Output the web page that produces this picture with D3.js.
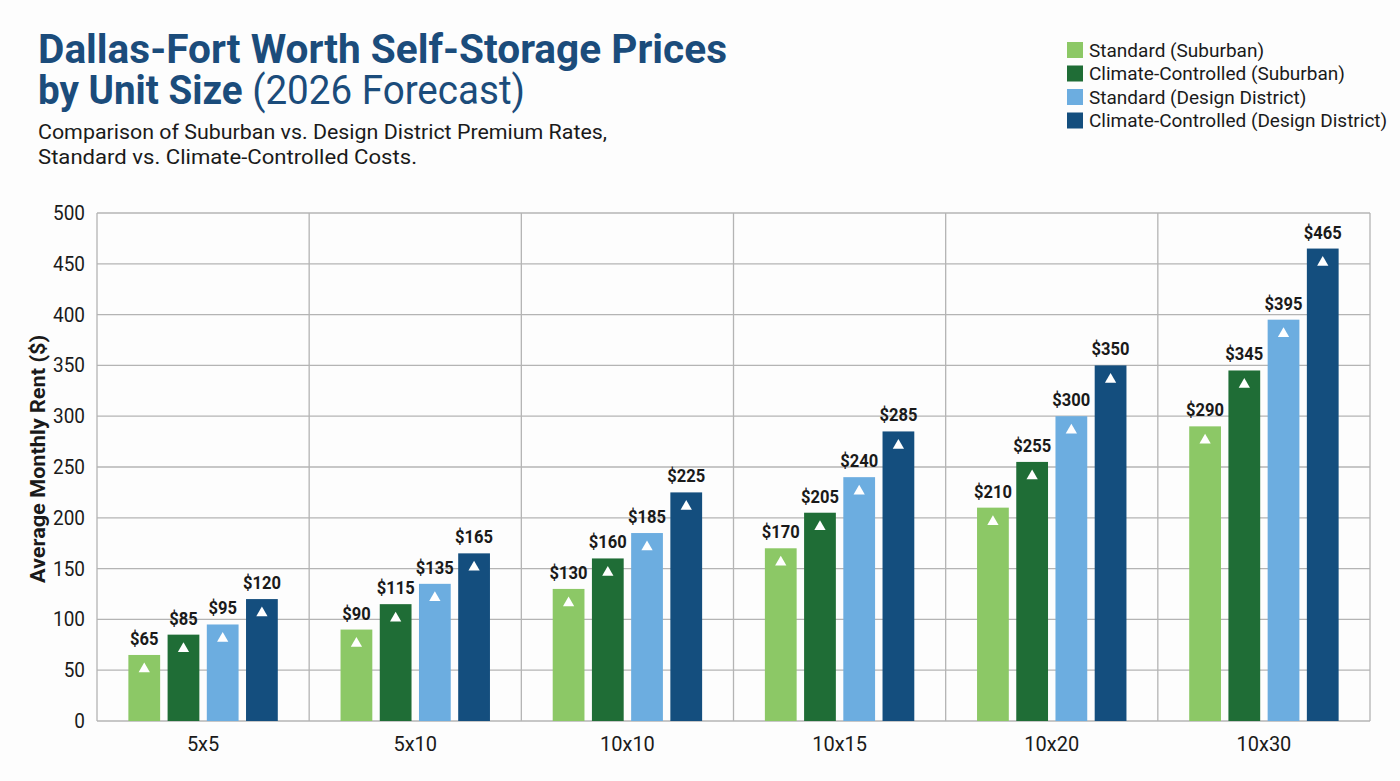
<!DOCTYPE html>
<html>
<head>
<meta charset="utf-8">
<script src="https://cdn.jsdelivr.net/npm/d3@7/dist/d3.min.js"></script>
<style>
  body { margin: 0; background: #fdfdfd; }
  text { font-family: Roboto, "Noto Sans", sans-serif; }
</style>
</head>
<body>
<div id="chart"></div>
<script>
// data
const unitSizes = ['5x5', '5x10', '10x10', '10x15', '10x20', '10x30'];
const seriesNames = [
  'Standard (Suburban)',
  'Climate-Controlled (Suburban)',
  'Standard (Design District)',
  'Climate-Controlled (Design District)'
];
const standardSuburban = [65, 90, 130, 170, 210, 290];
const climateSuburban = [85, 115, 160, 205, 255, 345];
const standardDesign = [95, 135, 185, 240, 300, 395];
const climateDesign = [120, 165, 225, 285, 350, 465];
const yTicks = [0, 50, 100, 150, 200, 250, 300, 350, 400, 450, 500];

const seriesValues = [standardSuburban, climateSuburban, standardDesign, climateDesign];
const seriesColors = ['#8cc866', '#1f6d36', '#6cade0', '#144e7e'];

const width = 1400;
const height = 781;
const margin = { top: 213, right: 30, bottom: 60, left: 97 };

const svg = d3.select('#chart').append('svg')
  .attr('width', width)
  .attr('height', height);

svg.append('rect').attr('width', width).attr('height', height).attr('fill', '#fdfdfd');

// condensed text helper
function ctext(parent, x, y, str, k) {
  const g = parent.append('g')
    .attr('transform', 'translate(' + x + ',' + y + ') scale(' + k + ',1)');
  return g.append('text').text(str);
}

// title block
const titleColor = '#1b4c7b';
svg.append('text')
  .attr('x', 38).attr('y', 63)
  .attr('textLength', 689).attr('lengthAdjust', 'spacingAndGlyphs')
  .style('font-size', '40px').style('font-weight', 700).attr('fill', titleColor)
  .text('Dallas-Fort Worth Self-Storage Prices');

const t2 = svg.append('text')
  .attr('x', 38).attr('y', 104)
  .attr('textLength', 487).attr('lengthAdjust', 'spacingAndGlyphs')
  .style('font-size', '40px').attr('fill', titleColor);
t2.append('tspan').style('font-weight', 700).text('by Unit Size ');
t2.append('tspan').style('font-weight', 400).text('(2026 Forecast)');

svg.append('text')
  .attr('x', 38).attr('y', 139)
  .attr('textLength', 569).attr('lengthAdjust', 'spacingAndGlyphs')
  .style('font-size', '21px').attr('fill', '#1a1a1a')
  .text('Comparison of Suburban vs. Design District Premium Rates,');

svg.append('text')
  .attr('x', 38).attr('y', 164)
  .attr('textLength', 379).attr('lengthAdjust', 'spacingAndGlyphs')
  .style('font-size', '21px').attr('fill', '#1a1a1a')
  .text('Standard vs. Climate-Controlled Costs.');

// legend
const legend = svg.append('g').attr('transform', 'translate(1067,42)');
seriesNames.forEach((name, i) => {
  const row = legend.append('g').attr('transform', 'translate(0,' + (i * 23.5) + ')');
  row.append('rect')
    .attr('width', 16).attr('height', 16)
    .attr('fill', seriesColors[i]);
  ctext(row, 22, 14.5, name, 1)
    .style('font-size', '19px')
    .attr('fill', '#1a1a1a');
});

// scales
const plotW = width - margin.left - margin.right;
const plotH = height - margin.top - margin.bottom;

const x0 = d3.scaleBand()
  .domain(unitSizes)
  .range([0, plotW])
  .padding(0);

const x1 = d3.scaleBand()
  .domain(d3.range(seriesNames.length))
  .range([0, x0.bandwidth()])
  .paddingInner(0.19)
  .paddingOuter(0.8);

const y = d3.scaleLinear()
  .domain([0, 500])
  .range([plotH, 0]);

const g = svg.append('g')
  .attr('transform', 'translate(' + margin.left + ',' + margin.top + ')');

// grid
const gridColor = '#b4b4b4';
g.selectAll('.hgrid')
  .data(yTicks)
  .enter().append('line')
    .attr('class', 'hgrid')
    .attr('x1', 0).attr('x2', plotW)
    .attr('y1', d => y(d)).attr('y2', d => y(d))
    .attr('stroke', gridColor).attr('stroke-width', 1.3);

g.selectAll('.vgrid')
  .data(unitSizes.concat(['end']))
  .enter().append('line')
    .attr('class', 'vgrid')
    .attr('x1', (d, i) => i * x0.step()).attr('x2', (d, i) => i * x0.step())
    .attr('y1', 0).attr('y2', plotH)
    .attr('stroke', gridColor).attr('stroke-width', 1.3);

// y axis labels
const tickSqueeze = 0.95;
const yAxis = d3.axisLeft(y).tickValues(yTicks).tickSize(0).tickPadding(12);
const yAxisG = g.append('g').call(yAxis);
yAxisG.select('.domain').remove();
yAxisG.selectAll('text')
  .style('font-size', '20px')
  .attr('fill', '#1a1a1a')
  .attr('transform', 'scale(' + tickSqueeze + ',1)')
  .attr('x', -12 / tickSqueeze);

// x axis labels
const xAxis = d3.axisBottom(x0).tickSize(0).tickPadding(16);
const xAxisG = g.append('g').attr('transform', 'translate(0,' + plotH + ')').call(xAxis);
xAxisG.select('.domain').remove();
xAxisG.selectAll('text')
  .style('font-size', '20px')
  .attr('fill', '#1a1a1a');

// y axis title
svg.append('text')
  .attr('transform', 'translate(45,459) rotate(-90)')
  .attr('text-anchor', 'middle')
  .attr('textLength', 248).attr('lengthAdjust', 'spacingAndGlyphs')
  .style('font-size', '21px').style('font-weight', 700)
  .attr('fill', '#1a1a1a')
  .text('Average Monthly Rent ($)');

// bars
const groups = g.selectAll('.unit')
  .data(unitSizes)
  .enter().append('g')
    .attr('class', 'unit')
    .attr('transform', d => 'translate(' + x0(d) + ',0)');

const tri = d3.symbol().type(d3.symbolTriangle).size(55);

groups.each(function(unit, ui) {
  const grp = d3.select(this);
  seriesValues.forEach((vals, si) => {
    const v = vals[ui];
    const bx = x1(si);
    const bw = x1.bandwidth();
    grp.append('rect')
      .attr('x', bx).attr('y', y(v))
      .attr('width', bw).attr('height', plotH - y(v))
      .attr('fill', seriesColors[si]);
    grp.append('path')
      .attr('d', tri)
      .attr('transform', 'translate(' + (bx + bw / 2) + ',' + (y(v) + 14) + ')')
      .attr('fill', '#ffffff');
    ctext(grp, bx + bw / 2, y(v) - 10, '$' + v, 0.92)
      .attr('text-anchor', 'middle')
      .style('font-size', '18px').style('font-weight', 700)
      .attr('fill', '#1a1a1a');
  });
});
</script>
</body>
</html>
